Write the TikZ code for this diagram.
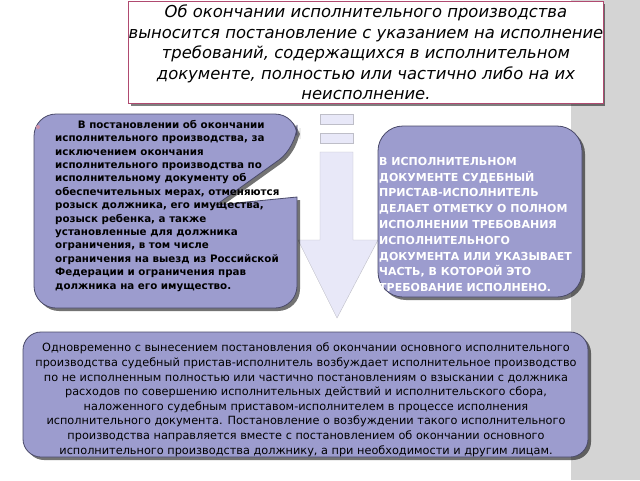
\documentclass[tikz,border=0pt]{standalone}
\usepackage{fontspec}
\setmainfont{DejaVu Sans}
\usetikzlibrary{shadows}
\definecolor{boxpurple}{HTML}{9C9CCE}
\definecolor{boxedge}{HTML}{4A4A6A}
\definecolor{topedge}{HTML}{B04A70}
\definecolor{arrowfill}{HTML}{E8E8F8}
\definecolor{stripe}{HTML}{D4D4D4}
\tikzset{
  pshadow/.style={drop shadow={shadow xshift=3pt,shadow yshift=-3pt,fill=black,opacity=.55}},
  purplebox/.style={fill=boxpurple,draw=boxedge,line width=0.8pt,pshadow},
  txt/.style={inner sep=0pt,align=left},
}
\begin{document}
\begin{tikzpicture}[x=1pt,y=-1pt]
\useasboundingbox (0,0) rectangle (640,480);
\fill[white] (0,0) rectangle (640,480);
\fill[stripe] (571,0) rectangle (640,480);
% top box
\node[draw=topedge,line width=1.2pt,fill=white,minimum width=437pt,minimum height=102pt,anchor=north west,
  drop shadow={shadow xshift=2pt,shadow yshift=-2pt,fill=black,opacity=.5},
  align=center,inner sep=0pt,font=\itshape\fontsize{16.4}{20.5}\selectfont] (top) at (128,1)
 {Об окончании исполнительного производства\\ выносится постановление с указанием на исполнение\\ требований, содержащихся в исполнительном\\ документе, полностью или частично либо на их\\ неисполнение.};
% arrow
\draw[arrowfill!60!gray,fill=arrowfill] (320,114) rectangle (353,124);
\draw[arrowfill!60!gray,fill=arrowfill] (320,133) rectangle (353,143);
\draw[arrowfill!60!gray,fill=arrowfill] (320,152) -- (353,152) -- (353,240) -- (378,240) -- (337,318) -- (298,240) -- (320,240) -- cycle;
\node[coordinate] (arrowtip) at (337,318) {};
% left callout
\path[purplebox,rounded corners=22pt] (34,114) -- (297,114) -- (297,147) [sharp corners] -- (216,205) -- (297,197) [rounded corners=22pt] -- (297,308) -- (34,308) -- cycle;
\node[txt,anchor=north west,font=\bfseries\fontsize{10.3}{13.4}\selectfont] (left) at (55,120)
 {\hspace*{2.2em}В постановлении об окончании\\ исполнительного производства, за\\ исключением окончания\\ исполнительного производства по\\ исполнительному документу об\\ обеспечительных мерах, отменяются\\ розыск должника, его имущества,\\ розыск ребенка, а также\\ установленные для должника\\ ограничения, в том числе\\ ограничения на выезд из Российской\\ Федерации и ограничения прав\\ должника на его имущество.};
\fill[topedge!60] (38,127) circle (2pt);
% right box
\path[purplebox,rounded corners=25pt] (378,126) rectangle (582,297);
\node[txt,anchor=north west,text=white,font=\bfseries\fontsize{11}{15.8}\selectfont] (right) at (379,157)
 {В ИСПОЛНИТЕЛЬНОМ\\ ДОКУМЕНТЕ СУДЕБНЫЙ\\ ПРИСТАВ-ИСПОЛНИТЕЛЬ\\ ДЕЛАЕТ ОТМЕТКУ О ПОЛНОМ\\ ИСПОЛНЕНИИ ТРЕБОВАНИЯ\\ ИСПОЛНИТЕЛЬНОГО\\ ДОКУМЕНТА ИЛИ УКАЗЫВАЕТ\\ ЧАСТЬ, В КОТОРОЙ ЭТО\\ ТРЕБОВАНИЕ ИСПОЛНЕНО.};
% bottom box
\path[purplebox,rounded corners=18pt] (23,332) rectangle (588,457);
\node[txt,align=center,anchor=north,font=\fontsize{11.3}{14.6}\selectfont] (bottom) at (306,343)
 {Одновременно с вынесением постановления об окончании основного исполнительного\\ производства судебный пристав-исполнитель возбуждает исполнительное производство\\ по не исполненным полностью или частично постановлениям о взыскании с должника\\ расходов по совершению исполнительных действий и исполнительского сбора,\\ наложенного судебным приставом-исполнителем в процессе исполнения\\ исполнительного документа. Постановление о возбуждении такого исполнительного\\ производства направляется вместе с постановлением об окончании основного\\ исполнительного производства должнику, а при необходимости и другим лицам.};
\end{tikzpicture}
\end{document}
